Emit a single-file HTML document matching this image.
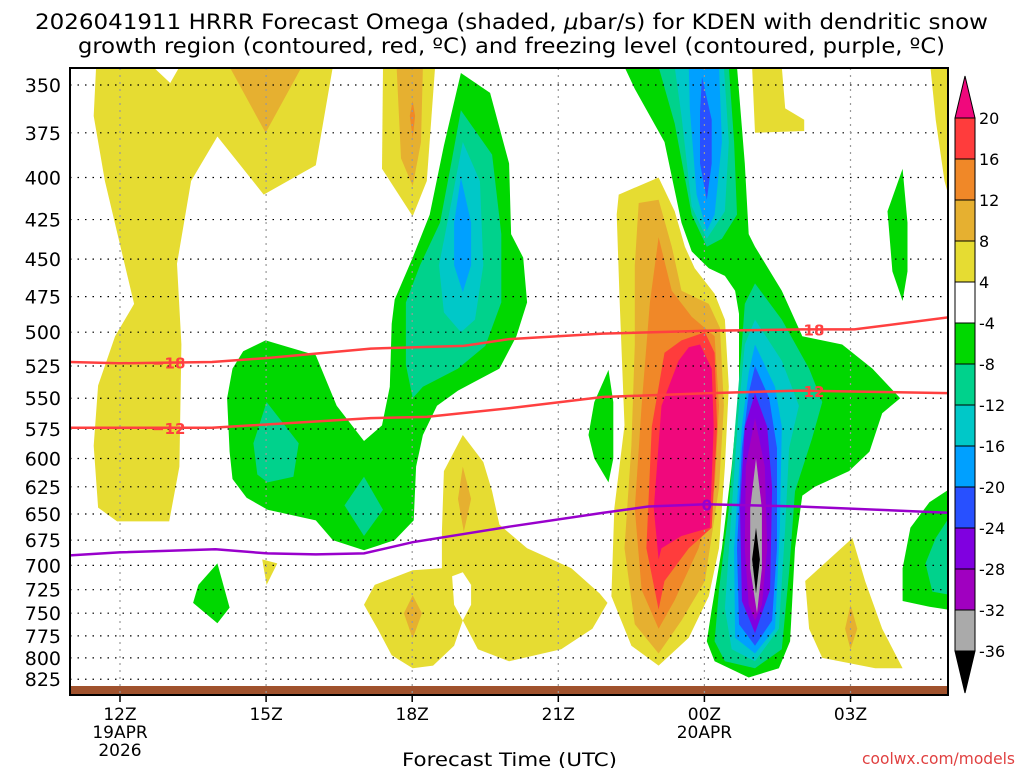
<!DOCTYPE html>
<html><head><meta charset="utf-8"><style>
html,body{margin:0;padding:0;background:#fff;}
svg{display:block;font-family:"DejaVu Sans","Liberation Sans",sans-serif;}
</style></head><body>
<svg id="chart" width="1024" height="768" viewBox="0 0 1024 768" xmlns="http://www.w3.org/2000/svg">
<rect width="1024" height="768" fill="#fff"/>
<text x="35" y="29" font-size="21" textLength="953" lengthAdjust="spacingAndGlyphs">2026041911 HRRR Forecast Omega (shaded, <tspan font-style="italic">μ</tspan>bar/s) for KDEN with dendritic snow</text>
<text x="78" y="53" font-size="21" textLength="867" lengthAdjust="spacingAndGlyphs">growth region (contoured, red, ºC) and freezing level (contoured, purple, ºC)</text>
<defs><clipPath id="plotclip"><rect x="70" y="68" width="878" height="627"/></clipPath></defs>
<g id="fills" clip-path="url(#plotclip)"></g>
<g id="grid"></g>
<g id="lines" clip-path="url(#plotclip)"></g>
<rect x="70" y="68" width="878" height="627" fill="none" stroke="#000" stroke-width="2"/>
<g id="axes"></g>
<g id="cbar"></g>
<text x="402" y="766" font-size="19" textLength="215" lengthAdjust="spacingAndGlyphs">Forecast Time (UTC)</text>
<text x="862" y="764" font-size="16" fill="#e04040" textLength="153" lengthAdjust="spacingAndGlyphs">coolwx.com/models</text>
</svg>
<script>
// axis data
const yTicks=[350,375,400,425,450,475,500,525,550,575,600,625,650,675,700,725,750,775,800,825];
const xTickHours=[0,3,6,9,12,15];
const xTickLabels=["12Z","15Z","18Z","21Z","00Z","03Z"];
const xTickSub=[["19APR","2026"],[],[],[],["20APR"],[]];
const cbLevels=[20,16,12,8,4,-4,-8,-12,-16,-20,-24,-28,-32,-36];
const cbColors=["#f0087c","#ff3c3c","#f08828","#e6b030","#e6dc32","#ffffff","#00d800","#00d28c","#00c8c8","#00a0ff","#2850ff","#8000e0","#a000c0","#aaaaaa","#000000"];

// freezing level and DGZ isotherms (hours since 12Z, hPa)
const lineHours0=[-1.03,-0.02,1.96,3.03,4.02,5.01,6.01,7.99,9.91,10.85,12.05,13.94,17.1];
const freezeP=[690,687,684,688,689,688,677,662,649,643,641,643,649];
const lineHours18=[-1.03,-0.02,1.89,3.03,5.15,7.06,7.99,9.91,12.05,14.01,15.08,17.1];
const m18P=[522,523,522,519,512,510,505,501,499,498,498,489];
const lineHours12=[-1.03,1.89,5.15,6.30,7.99,9.91,12.05,13.94,17.1];
const m12P=[574,574,566,565,558,549,546,544,546];

// omega filled contour regions: [hour, hPa] vertices
const Y="#e6dc32",LO="#e6b030",OR="#f08828",RD="#ff3c3c",MG="#f0087c",GR="#00d800",TL="#00d28c",CY="#00c8c8",LB="#00a0ff",BL="#2850ff",PU="#8000e0",VI="#a000c0",GY="#aaaaaa",BK="#000000",WH="#ffffff";
const regions=[
 ["yellow-band-12z",Y,[[-0.49,341],[-0.54,366],[-0.31,402],[0.29,480],[-0.10,503],[-0.45,540],[-0.54,589],[-0.45,644],[-0.06,657],[1.01,657],[1.22,607],[1.26,509],[1.17,453],[1.46,402],[2.00,377],[2.95,410],[4.02,393],[4.37,341],[1.22,341],[1.03,349],[0.68,341]]],
 ["orange-15z-top",LO,[[2.25,341],[2.99,375],[3.73,341]]],
 ["yellow-18z-top",Y,[[5.40,341],[5.38,395],[6.01,423],[6.30,402],[6.47,341]]],
 ["orange-18z-top",LO,[[5.68,341],[6.22,341],[6.18,380],[6.01,405],[5.77,389]]],
 ["dark-orange-18z-top",OR,[[6.01,358],[6.06,366],[6.01,378],[5.95,366]]],
 ["green-18z-plume",GR,[[7.00,344],[7.60,354],[7.99,392],[8.03,434],[8.28,449],[8.36,479],[8.14,503],[7.79,527],[6.94,544],[6.51,556],[6.22,580],[6.08,607],[6.03,656],[5.64,675],[5.01,685],[4.37,675],[4.02,656],[3.03,646],[2.60,635],[2.31,618],[2.25,594],[2.20,550],[2.31,527],[2.53,514],[2.99,506],[4.02,517],[4.45,556],[5.01,585],[5.38,572],[5.54,541],[5.58,494],[5.64,477],[6.01,449],[6.36,422],[6.65,382]]],
 ["teal-18z-plume",TL,[[7.00,363],[7.64,387],[7.83,434],[7.83,479],[7.50,510],[6.94,527],[6.22,541],[6.01,550],[5.87,524],[5.87,479],[6.16,454],[6.57,427],[6.80,392]]],
 ["cyan-18z-plume",CY,[[7.04,380],[7.39,402],[7.46,454],[7.29,491],[7.00,500],[6.65,486],[6.55,454],[6.80,415]]],
 ["blue-18z-plume",LB,[[7.00,400],[7.21,427],[7.21,454],[7.04,472],[6.86,454],[6.86,427]]],
 ["teal-blob-15z",TL,[[3.01,553],[3.67,587],[3.56,616],[3.03,621],[2.82,614],[2.74,587]]],
 ["teal-blob-17z",TL,[[5.01,616],[5.40,646],[5.01,671],[4.61,642]]],
 ["green-small-14z",GR,[[2.00,698],[2.25,744],[2.00,761],[1.50,739],[1.61,720]]],
 ["yellow-small-15z",Y,[[2.92,694],[3.23,698],[3.01,720]]],
 ["yellow-lower-19z",Y,[[5.01,741],[5.23,720],[6.01,705],[6.61,703],[6.61,667],[6.65,611],[7.04,580],[7.46,603],[7.64,629],[7.79,660],[8.36,683],[9.27,703],[9.85,729],[10.01,739],[9.70,767],[9.06,790],[7.99,804],[7.35,790],[7.04,758],[6.86,786],[6.43,809],[6.01,812],[5.58,797],[5.29,767]]],
 ["hole-19z",WH,[[6.82,711],[7.04,707],[7.21,720],[7.21,741],[7.04,758],[6.86,741]]],
 ["orange-19z",LO,[[7.04,607],[7.21,636],[7.06,667],[6.94,636]]],
 ["orange-18z-low",LO,[[6.01,731],[6.20,750],[6.01,778],[5.83,750]]],
 ["green-00z",GR,[[10.36,341],[12.67,341],[12.83,392],[12.91,434],[13.04,442],[13.59,471],[14.01,503],[14.83,509],[15.45,527],[16.02,550],[15.65,562],[15.39,594],[14.97,611],[14.27,625],[14.01,633],[13.86,683],[13.76,781],[13.53,812],[12.91,823],[12.21,804],[12.05,781],[12.15,746],[12.36,683],[12.56,607],[12.71,541],[12.71,487],[12.63,471],[12.42,461],[12.09,456],[11.74,445],[11.53,427],[11.18,380],[10.57,352]]],
 ["teal-00z-top",TL,[[11.06,341],[12.50,341],[12.61,380],[12.67,422],[12.36,437],[12.05,442],[11.74,422],[11.39,370]]],
 ["cyan-00z-top",CY,[[11.39,341],[12.40,341],[12.50,380],[12.42,420],[12.05,437],[11.74,417],[11.53,366]]],
 ["lightblue-00z-top",LB,[[11.68,341],[12.30,341],[12.36,380],[12.21,422],[12.05,432],[11.84,410],[11.70,362]]],
 ["blue-00z-top",BL,[[11.95,346],[12.15,368],[12.15,392],[12.05,413],[11.91,392],[11.91,364]]],
 ["teal-01z",TL,[[13.04,466],[13.59,491],[14.15,527],[14.42,553],[14.21,583],[13.86,629],[13.74,707],[13.59,790],[13.04,812],[12.42,804],[12.21,781],[12.30,725],[12.50,645],[12.63,573],[12.77,509],[12.83,480]]],
 ["cyan-01z",CY,[[13.04,491],[13.59,521],[13.94,556],[13.74,591],[13.66,663],[13.53,767],[13.04,804],[12.56,790],[12.42,745],[12.56,645],[12.71,556],[12.83,509]]],
 ["lightblue-01z",LB,[[13.04,509],[13.45,541],[13.59,573],[13.55,663],[13.45,767],[13.04,795],[12.63,777],[12.61,683],[12.77,573],[12.91,530]]],
 ["blue-01z",BL,[[13.04,525],[13.33,550],[13.49,591],[13.49,683],[13.39,758],[13.04,786],[12.71,762],[12.67,683],[12.77,591],[12.91,546]]],
 ["purple-01z",PU,[[13.04,546],[13.29,573],[13.39,626],[13.35,725],[13.04,772],[12.77,737],[12.73,645],[12.83,573]]],
 ["violet-01z",VI,[[13.04,566],[13.24,607],[13.29,683],[13.18,741],[13.04,758],[12.91,741],[12.83,683],[12.85,607]]],
 ["gray-01z",GY,[[13.06,600],[13.18,645],[13.18,703],[13.08,750],[12.94,703],[12.94,645]]],
 ["black-01z",BK,[[13.06,663],[13.14,694],[13.06,729],[12.98,694]]],
 ["yellow-23z",Y,[[10.24,410],[11.06,400],[11.39,420],[11.60,442],[11.80,456],[12.21,473],[12.42,491],[12.50,541],[12.42,607],[12.30,683],[12.09,732],[11.68,777],[11.06,809],[10.50,786],[10.09,732],[10.15,645],[10.36,572],[10.26,479],[10.20,422]]],
 ["lightorange-23z",LO,[[10.65,415],[11.06,413],[11.33,442],[11.53,471],[12.09,480],[12.32,497],[12.40,556],[12.30,626],[12.01,716],[11.53,758],[11.06,795],[10.57,762],[10.36,683],[10.50,589],[10.57,509],[10.57,454]]],
 ["orange-23z",OR,[[11.06,436],[11.33,471],[11.74,489],[12.21,503],[12.30,556],[12.21,626],[11.88,683],[11.39,736],[11.06,767],[10.71,725],[10.57,645],[10.71,556],[10.88,479]]],
 ["red-23z",RD,[[12.01,500],[12.21,515],[12.26,573],[12.15,663],[11.68,683],[11.18,716],[11.06,746],[10.81,683],[10.92,573],[11.18,515],[11.53,506]]],
 ["magenta-23z",MG,[[11.91,509],[12.15,527],[12.19,573],[12.11,663],[11.53,671],[11.12,683],[11.06,694],[10.96,645],[11.12,556],[11.47,521],[11.68,511]]],
 ["yellow-01z-top",Y,[[12.98,341],[13.59,341],[13.66,362],[14.05,368],[14.05,374],[13.04,375]]],
 ["green-small-22z",GR,[[10.03,528],[10.13,553],[10.13,600],[10.03,621],[9.74,600],[9.62,580],[9.74,553]]],
 ["green-small-04z",GR,[[16.07,395],[16.17,427],[16.17,458],[16.07,478],[15.86,458],[15.76,420]]],
 ["yellow-right-edge",Y,[[16.64,341],[17.10,341],[17.10,420],[16.93,402],[16.75,368]]],
 ["green-lower-right",GR,[[17.10,625],[16.62,639],[16.23,663],[16.07,703],[16.07,737],[16.62,743],[17.10,747]]],
 ["teal-lower-right",TL,[[17.10,648],[16.75,673],[16.54,698],[16.68,727],[17.10,731]]],
 ["yellow-03z-low",Y,[[14.07,716],[15.04,673],[15.30,716],[15.65,767],[16.07,812],[15.51,812],[14.42,800],[14.15,767]]],
 ["orange-03z-low",LO,[[15.00,741],[15.14,767],[15.00,790],[14.89,767]]]
];

// scales
const X0=120, PXH=48.7;
function xs(h){return X0+h*PXH;}
function ys(p){return 85+693*Math.log(p/350);}
const NS="http://www.w3.org/2000/svg";
function mk(tag,attrs,parent){const e=document.createElementNS(NS,tag);for(const k in attrs)e.setAttribute(k,attrs[k]);parent.appendChild(e);return e;}

const fills=document.getElementById('fills');
regions.forEach(r=>{
  const d=r[2].map((pt,i)=>(i?'L':'M')+xs(pt[0]).toFixed(1)+','+ys(pt[1]).toFixed(1)).join('')+'Z';
  const e=mk('path',{d:d,fill:r[1]},fills);
  
  
});
const g1=mk('rect',{x:70,y:686,width:878,height:8,fill:"#a0522d"},fills);



const grid=document.getElementById('grid'), axes=document.getElementById('axes');
yTicks.forEach(p=>{
  const y=ys(p);
  const l=mk('line',{x1:70,x2:948,y1:y,y2:y,stroke:"#000","stroke-width":1.2,"stroke-dasharray":"1.5,6"},grid);
  
  
  const t=mk('text',{x:61,y:y+7,"font-size":19,"text-anchor":"end"},axes);
  t.textContent=p;
  
  
});
xTickHours.forEach((h,i)=>{
  const x=xs(h);
  const l=mk('line',{x1:x,x2:x,y1:68,y2:695,stroke:"#999","stroke-width":1.2,"stroke-dasharray":"2,5"},grid);
  
  
  const tk=mk('line',{x1:x,x2:x,y1:695,y2:702,stroke:"#000","stroke-width":1.5},axes);
  
  
  const t=mk('text',{x:x,y:720,"font-size":17,"text-anchor":"middle"},axes);
  t.textContent=xTickLabels[i];
  
  
  xTickSub[i].forEach((s,j)=>{
    const u=mk('text',{x:x,y:738+j*18,"font-size":17,"text-anchor":"middle"},axes);
    u.textContent=s;
    
    
  });
});

const lines=document.getElementById('lines');
function drawLine(hs,ps,color,name){
  const d=hs.map((h,i)=>(i?'L':'M')+xs(h).toFixed(1)+','+ys(ps[i]).toFixed(1)).join('');
  const e=mk('path',{d:d,fill:"none",stroke:color,"stroke-width":2.5},lines);
  
  
}
drawLine(lineHours0,freezeP,"#9900cc","freezing-level-line");
drawLine(lineHours18,m18P,"#ff4040","minus18-isotherm");
drawLine(lineHours12,m12P,"#ff4040","minus12-isotherm");
function interp(hs,ps,h){for(let i=1;i<hs.length;i++){if(h<=hs[i]){const f=(h-hs[i-1])/(hs[i]-hs[i-1]);return ps[i-1]+f*(ps[i]-ps[i-1]);}}return ps[ps.length-1];}
function lineLabel(txt,h,hs,ps,color,name){
  const x=xs(h),y=ys(interp(hs,ps,h));
  const t=mk('text',{x:x,y:y+6,"font-size":15,"font-weight":"bold",fill:color,"text-anchor":"middle"},lines);
  t.textContent=txt;
  
  
}
lineLabel("−18",1.0,lineHours18,m18P,"#ff4040","label-minus18-left");
lineLabel("−12",1.0,lineHours12,m12P,"#ff4040","label-minus12-left");
lineLabel("18",14.25,lineHours18,m18P,"#ff4040","label-18-right");
lineLabel("12",14.25,lineHours12,m12P,"#ff4040","label-12-right");
lineLabel("0",12.05,lineHours0,freezeP,"#9900cc","label-freezing-0");

const cb=document.getElementById('cbar');
const cbTop=118, cbStep=41, cbX=955, cbW=20;
function cy(i){return cbTop+i*cbStep;}
const tri1=mk('polygon',{points:`${cbX},${cy(0)} ${cbX+cbW},${cy(0)} ${cbX+cbW/2},${cy(0)-42}`,fill:cbColors[0],stroke:"#000","stroke-width":1},cb);


for(let i=0;i<cbLevels.length-1;i++){
  const r=mk('rect',{x:cbX,y:cy(i),width:cbW,height:cbStep,fill:cbColors[i+1],stroke:"#000","stroke-width":1},cb);
  
  
}
const last=cbLevels.length-1;
const tri2=mk('polygon',{points:`${cbX},${cy(last)} ${cbX+cbW},${cy(last)} ${cbX+cbW/2},${cy(last)+42}`,fill:cbColors[cbColors.length-1],stroke:"#000","stroke-width":1},cb);


cbLevels.forEach((v,i)=>{
  const t=mk('text',{x:979,y:cy(i)+6,"font-size":16},cb);
  t.textContent=v;
  
  
});
</script>
</body></html>
